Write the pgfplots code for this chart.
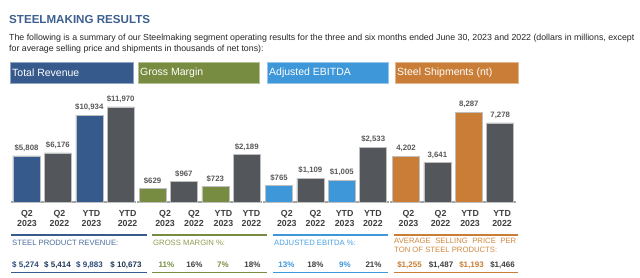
\documentclass[border=0pt]{standalone}
\usepackage{fontspec}
\setmainfont{Liberation Sans}
\usepackage{pgfplots}
\pgfplotsset{compat=1.18}
\definecolor{navy}{HTML}{375A8C}
\definecolor{barg}{HTML}{53565A}
\definecolor{olive}{HTML}{778C40}
\definecolor{sky}{HTML}{3E97D8}
\definecolor{orng}{HTML}{C97D36}
\definecolor{lbl}{HTML}{595959}
\definecolor{tickc}{HTML}{3F3F3F}
\definecolor{titleblue}{HTML}{3D5F8F}
\definecolor{navytxt}{HTML}{4A6C9C}
\definecolor{olivetxt}{HTML}{8C9C50}
\definecolor{skytxt}{HTML}{4AA0E0}
\definecolor{orngtxt}{HTML}{D08840}
\pgfplotsset{panel/.style={
  scale only axis, width=125.6bp, anchor=south west,
  xmin=-0.5, xmax=3.5, ymin=0, clip=false,
  axis x line*=bottom, axis y line=none,
  x axis line style={draw=black!35, line width=1.2bp},
  major tick length=0pt,
  ybar, bar width=27bp,
  xticklabels={{Q2\\2023},{Q2\\2022},{YTD\\2023},{YTD\\2022}},
  xticklabel style={font=\bfseries\fontsize{8.8bp}{10bp}\selectfont, text=tickc, align=center, inner sep=0pt, yshift=-8.5bp},
  every node near coord/.append style={font=\bfseries\fontsize{7.8bp}{8bp}\selectfont, text=lbl, inner sep=0pt, yshift=4bp},
  /pgf/number format/.cd, fixed, precision=0, 1000 sep={,}, assume math mode=true,
}}
\begin{document}
\begin{tikzpicture}[x=1bp,y=1bp]
\path[use as bounding box] (0,0) rectangle (640,-277);
% title and text
\node[anchor=west, inner sep=0pt, text=titleblue, font=\bfseries\fontsize{11.6bp}{13bp}\selectfont] at (9,-19.7) {STEELMAKING RESULTS};
\node[anchor=base west, inner sep=0pt, text=black!85, font=\fontsize{8.8bp}{10bp}\selectfont] at (9,-40) {The following is a summary of our Steelmaking segment operating results for the three and six months ended June 30, 2023 and 2022 (dollars in millions, except};
\node[anchor=base west, inner sep=0pt, text=black!85, font=\fontsize{8.8bp}{10bp}\selectfont] at (9,-51) {for average selling price and shipments in thousands of net tons):};
% headers
\tikzset{hdrtxt/.style={anchor=west, inner sep=0pt, text=white, font=\fontsize{10.5bp}{12bp}\selectfont}}
\filldraw[fill=navy, draw=navy!55, line width=0.6bp] (10,-62) rectangle (133,-83);
\node[hdrtxt] at (12,-72.7) {Total Revenue};
\filldraw[fill=olive, draw=olive!55, line width=0.6bp] (138,-62) rectangle (259,-83);
\node[hdrtxt] at (140,-72.7) {Gross Margin};
\filldraw[fill=sky, draw=sky!55, line width=0.6bp] (267,-62) rectangle (388,-83);
\node[hdrtxt] at (269,-72.7) {Adjusted EBITDA};
\filldraw[fill=orng, draw=orng!55, line width=0.6bp] (395,-62) rectangle (518,-83);
\node[hdrtxt] at (397,-72.7) {Steel Shipments (nt)};
% Revenue
\begin{axis}[panel, at={(10.8bp,-202bp)}, height=95.4bp, ymax=12000,
  xtick={0.016,1.05,2.07,3.22},
  nodes near coords={\$\pgfmathprintnumber{\pgfplotspointmeta}}]
\addplot[fill=navy, draw=black!25, line width=0.5bp, bar shift=0pt] coordinates {(0,5808) (2,10934)};
\addplot[fill=barg, draw=black!25, line width=0.5bp, bar shift=0pt] coordinates {(1,6176) (3,11970)};
\end{axis}
% Gross margin
\begin{axis}[panel, at={(136.8bp,-202bp)}, height=56.2bp, ymax=2600,
  xtick={0.40,1.32,2.26,3.15},
  nodes near coords={\$\pgfmathprintnumber{\pgfplotspointmeta}}]
\addplot[fill=olive, draw=black!25, line width=0.5bp, bar shift=0pt] coordinates {(0,629) (2,723)};
\addplot[fill=barg, draw=black!25, line width=0.5bp, bar shift=0pt] coordinates {(1,967) (3,2189)};
\end{axis}
% Adjusted EBITDA
\begin{axis}[panel, at={(263.3bp,-202bp)}, height=56.2bp, ymax=2600,
  xtick={0.25,1.16,2.09,2.99},
  nodes near coords={\$\pgfmathprintnumber{\pgfplotspointmeta}}]
\addplot[fill=sky, draw=black!25, line width=0.5bp, bar shift=0pt] coordinates {(0,765) (2,1005)};
\addplot[fill=barg, draw=black!25, line width=0.5bp, bar shift=0pt] coordinates {(1,1109) (3,2533)};
\end{axis}
% Steel shipments
\begin{axis}[panel, at={(390.3bp,-202bp)}, height=90.1bp, ymax=8300,
  xtick={0.08,1.10,2.04,3.06},
  nodes near coords={\pgfmathprintnumber{\pgfplotspointmeta}}]
\addplot[fill=orng, draw=black!25, line width=0.5bp, bar shift=0pt] coordinates {(0,4202) (2,8287)};
\addplot[fill=barg, draw=black!25, line width=0.5bp, bar shift=0pt] coordinates {(1,3641) (3,7278)};
\end{axis}
% bottom table
\draw[navy, line width=2bp] (11,-234.5) -- (147,-234.5);
\draw[navy, line width=1.5bp] (11,-272.5) -- (147,-272.5);
\draw[olive, line width=2bp] (152,-234.5) -- (267,-234.5);
\draw[olive, line width=1.5bp] (152,-272.5) -- (267,-272.5);
\draw[sky, line width=2bp] (273,-234.5) -- (388,-234.5);
\draw[sky, line width=1.5bp] (273,-272.5) -- (388,-272.5);
\draw[orng, line width=2bp] (394,-234.5) -- (518,-234.5);
\draw[orng, line width=1.5bp] (394,-272.5) -- (518,-272.5);
\tikzset{captxt/.style={anchor=west, inner sep=0pt, font=\fontsize{7.7bp}{9bp}\selectfont}}
\node[captxt, text=navytxt] at (12,-242.5) {STEEL PRODUCT REVENUE:};
\node[captxt, text=olivetxt] at (153,-242.5) {GROSS MARGIN \%:};
\node[captxt, text=skytxt] at (274,-242.5) {ADJUSTED EBITDA \%:};
\node[captxt, text=orngtxt] at (394,-241) {\makebox[122bp][s]{AVERAGE SELLING PRICE PER}};
\node[captxt, text=orngtxt] at (394,-250) {TON OF STEEL PRODUCTS:};
\tikzset{valtxt/.style={inner sep=0pt, font=\bfseries\fontsize{8bp}{9bp}\selectfont}}
\node[valtxt, text=navy!85!black] at (25.5,-265) {\$ 5,274};
\node[valtxt, text=navy!60!black] at (57.5,-265) {\$ 5,414};
\node[valtxt, text=navy!85!black] at (89.5,-265) {\$ 9,883};
\node[valtxt, text=navy!60!black] at (126,-265) {\$ 10,673};
\node[valtxt, text=olive] at (166.5,-265) {11\%};
\node[valtxt, text=tickc] at (194.5,-265) {16\%};
\node[valtxt, text=olive] at (223,-265) {7\%};
\node[valtxt, text=tickc] at (252.5,-265) {18\%};
\node[valtxt, text=sky] at (286.5,-265) {13\%};
\node[valtxt, text=tickc] at (315.5,-265) {18\%};
\node[valtxt, text=sky] at (345,-265) {9\%};
\node[valtxt, text=tickc] at (373.5,-265) {21\%};
\node[valtxt, text=orng] at (409.5,-265) {\$1,255};
\node[valtxt, text=tickc] at (441,-265) {\$1,487};
\node[valtxt, text=orng] at (471.5,-265) {\$1,193};
\node[valtxt, text=tickc] at (502.5,-265) {\$1,466};
\end{tikzpicture}
\end{document}
